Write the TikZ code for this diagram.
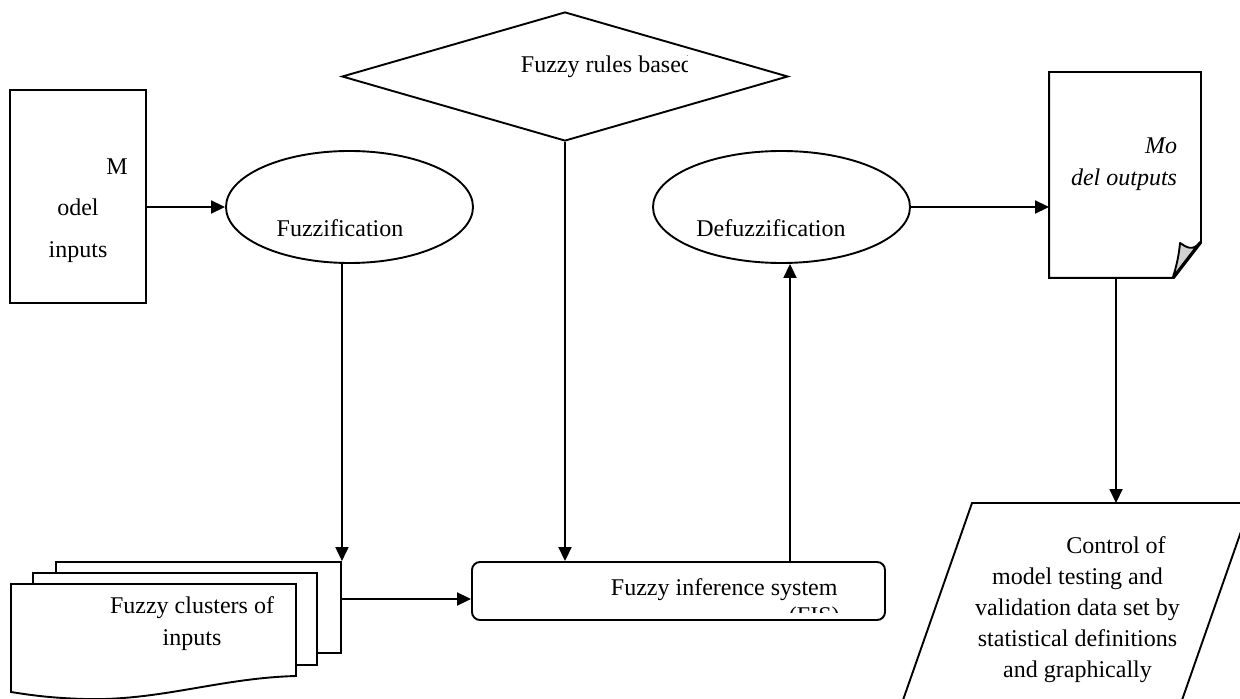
\documentclass[tikz,border=0pt]{standalone}
\usepackage{fontspec}
\setmainfont{Liberation Serif}
\usetikzlibrary{calc,positioning,shapes.geometric,arrows.meta}

\begin{document}
\begin{tikzpicture}[x=0.5pt,y=-0.5pt,line width=0.95pt,
	>={Triangle[length=7pt,width=6.5pt]},
	blockbox/.style={draw,inner sep=0pt},
	ellbox/.style={draw,ellipse,inner sep=0pt},
	lbl/.style={inner sep=0pt,anchor=base,font=\fontsize{12}{15.5}\selectfont}
	]

	\useasboundingbox (0,0) rectangle (1240,699);
	\clip (0,0) rectangle (1240,699);

	% model inputs
	\node[blockbox,minimum width=68pt,minimum height=106.5pt] (inp) at (78,196.5) {};
	\node[lbl] (inpa) at (117,175) {M};
	\node[lbl] (inpb) at (78,216) {odel};
	\node[lbl] (inpc) at (78,258) {inputs};

	% fuzzification
	\node[ellbox,minimum width=123.5pt,minimum height=56pt] (fuzz) at (349.5,207) {};
	\node[lbl] (fuzzt) at (340,237) {Fuzzification};

	% rules
	\node[draw,diamond,inner sep=0pt,minimum width=223pt,minimum height=64.5pt] (rules) at (565,76.5) {};
	\begin{scope}
		\clip (0,0) rectangle (687,699);
		\node[lbl,anchor=base west] (rulest) at (520,73) {Fuzzy rules based};
	\end{scope}

	% defuzzification
	\node[ellbox,minimum width=128.5pt,minimum height=56pt] (defuzz) at (781.5,207) {};
	\node[lbl] (defuzzt) at (771,237) {Defuzzification};

	% model outputs
	\node[inner sep=0pt,minimum width=75pt,minimum height=102pt] (outdoc) at (1125,175) {};
	\draw (outdoc.north west) -- (outdoc.north east) -- ($(outdoc.south east)+(0,-35)$)
		-- ($(outdoc.south east)+(-27,0)$) -- (outdoc.south west) -- cycle;
	\filldraw[fill=gray!35,line join=round] (1200,242) .. controls (1193,252) and (1186,247) .. (1180,243)
		.. controls (1179,255) and (1176,268) .. (1173,277) -- cycle;
	\node[lbl,anchor=base east,font=\fontsize{12}{15.5}\selectfont\itshape] (outa) at (1178,154) {Mo};
	\node[lbl,anchor=base east,font=\fontsize{12}{15.5}\selectfont\itshape] (outb) at (1178,186) {del outputs};

	% fuzzy clusters
	\node[blockbox,fill=white,minimum width=142.5pt,minimum height=45.5pt] (clb) at (198.5,607.5) {};
	\node[blockbox,fill=white,minimum width=142pt,minimum height=46pt] (clm) at (175,619) {};
	\filldraw[fill=white] (11,584) -- (296,584) -- (296,676) .. controls (220,678) and (160,701) .. (85,699)
		.. controls (50,698) and (30,695) .. (11,692) -- cycle;
	\node[lbl] (clta) at (192,613) {Fuzzy clusters of};
	\node[lbl] (cltb) at (192,645) {inputs};

	% FIS
	\node[blockbox,rounded corners=4pt,minimum width=206.5pt,minimum height=29pt] (fis) at (678.5,591) {};
	\node[lbl,anchor=base west] (fist) at (610,595) {Fuzzy inference system};
	\begin{scope}
		\clip (0,0) rectangle (1240,612);
		\node[lbl,anchor=base west] (fisab) at (788,623) {(FIS)};
	\end{scope}

	% control
	\coordinate (pTL) at (972,503);
	\coordinate (pTR) at (1251,503);
	\coordinate (pBR) at (1168,740);
	\coordinate (pBL) at (889,740);
	\draw (pTL) -- (pTR) -- (pBR) -- (pBL) -- cycle;
	\node[lbl] (cta) at (1116,553) {Control of};
	\node[lbl] (ctb) at (1077.5,584) {model testing and};
	\node[lbl] (ctc) at (1077.5,615) {validation data set by};
	\node[lbl] (ctd) at (1077.5,646) {statistical definitions};
	\node[lbl] (cte) at (1077.5,677) {and graphically};

	% arrows
	\draw[->] (inp.east |- fuzz.west) -- (fuzz.west);
	\draw[->] (fuzz.south -| clb.north east) -- (clb.north east);
	\coordinate (clout) at (341,599);
	\draw[->] (clout) -- (clout -| fis.west);
	\draw[->] (rules.south) -- (rules.south |- fis.north);
	\coordinate (fisup) at (790,562);
	\draw[->] (fisup) -- (fisup |- defuzz.south);
	\draw[->] (defuzz.east) -- (defuzz.east -| outdoc.west);
	\coordinate (outdn) at (1116,277);
	\draw[->] (outdn) -- (outdn |- pTL);

\end{tikzpicture}
\end{document}
